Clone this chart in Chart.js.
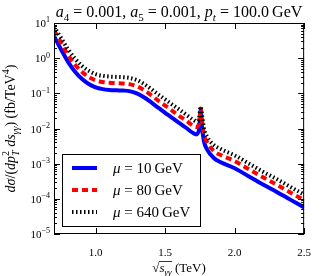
<!DOCTYPE html>
<html>
<head>
<meta charset="utf-8">
<script src="https://cdn.jsdelivr.net/npm/chart.js@4.4.1/dist/chart.umd.min.js"></script>
<style>
  html, body { margin: 0; padding: 0; background: #fff; }
  canvas { display: block; }
</style>
</head>
<body>
<canvas id="chart" width="324" height="276"></canvas>
<script>
// sqrt(s_gg) in TeV
const sqrtS = [0.70, 0.75, 0.80, 0.85, 0.90, 0.95, 1.00, 1.05, 1.10, 1.15, 1.20, 1.25, 1.30, 1.35, 1.40, 1.45, 1.50, 1.55, 1.60, 1.65, 1.70, 1.725, 1.745, 1.755, 1.765, 1.78, 1.80, 1.85, 1.90, 2.00, 2.10, 2.20, 2.30, 2.40, 2.50];

// d sigma / (dpT^2 ds) in fb/TeV^4
const mu10 = [4.2, 1.8, 0.8, 0.42, 0.26, 0.185, 0.148, 0.132, 0.125, 0.122, 0.12, 0.114, 0.098, 0.076, 0.055, 0.039, 0.028, 0.020, 0.0145, 0.0105, 0.0075, 0.0068, 0.010, 0.034, 0.011, 0.0042, 0.0026, 0.00145, 0.0011, 7.4e-4, 4.4e-4, 2.6e-4, 1.6e-4, 9.5e-5, 5.7e-5];
const mu80 = [6.3, 2.8, 1.25, 0.66, 0.41, 0.29, 0.235, 0.21, 0.2, 0.195, 0.19, 0.18, 0.157, 0.122, 0.088, 0.062, 0.045, 0.032, 0.023, 0.017, 0.012, 0.011, 0.015, 0.037, 0.017, 0.0068, 0.0042, 0.0023, 0.00176, 1.18e-3, 7.0e-4, 4.2e-4, 2.55e-4, 1.52e-4, 9.2e-5];
const mu640 = [7.8, 3.8, 1.8, 0.98, 0.61, 0.44, 0.35, 0.315, 0.3, 0.293, 0.287, 0.27, 0.235, 0.182, 0.132, 0.093, 0.067, 0.048, 0.035, 0.025, 0.018, 0.016, 0.021, 0.042, 0.024, 0.0098, 0.006, 0.0034, 0.0026, 1.72e-3, 1.02e-3, 6.0e-4, 3.7e-4, 2.2e-4, 1.32e-4];

const xTicks = [1.0, 1.5, 2.0, 2.5];
const yDecades = [-5, -4, -3, -2, -1, 0, 1];
const seriesLabels = ['10', '80', '640'];

const FAM = '"Liberation Serif", "DejaVu Serif", serif';

function pts(ys) {
    return sqrtS.map((x, i) => ({ x: x, y: ys[i] }));
}

// small rich text helper: italic, sub, sup, stacked sub under sup
function partFont(p, size) {
    const s = (p.sub || p.sup) ? Math.round(size * 0.7) : size;
    return (p.i ? 'italic ' : '') + s + 'px ' + FAM;
}
function drawRich(ctx, parts, x, y, size, align) {
    let cx = 0, prevStart = 0;
    const items = [];
    for (const p of parts) {
        ctx.font = partFont(p, size);
        const w = ctx.measureText(p.t).width;
        const start = p.back ? prevStart : cx;
        const dy = p.sub ? size * 0.25 : p.sup ? -size * 0.42 : 0;
        items.push({ p: p, x: start, dy: dy, font: ctx.font, w: w });
        prevStart = start;
        cx = Math.max(cx, start + w);
    }
    const x0 = align === 'center' ? x - cx / 2 : align === 'right' ? x - cx : x;
    ctx.textAlign = 'left';
    ctx.textBaseline = 'alphabetic';
    for (const it of items) {
        ctx.font = it.font;
        ctx.fillText(it.p.t, x0 + it.x, y + it.dy);
    }
    return { x0: x0, items: items, width: cx };
}

const decor = {
    id: 'decor',
    afterDatasetsDraw: function (chart) {
        const ctx = chart.ctx;
        const a = chart.chartArea;
        const xs = chart.scales.x, ys = chart.scales.y;
        ctx.save();
        ctx.fillStyle = '#000';
        ctx.strokeStyle = '#000';

        // frame
        ctx.lineWidth = 1;
        ctx.strokeRect(a.left + 0.5, a.top + 0.5, a.right - a.left - 1, a.bottom - a.top - 1);

        // inward ticks
        ctx.beginPath();
        for (const v of xTicks) {
            const px = Math.round(xs.getPixelForValue(v)) + 0.5;
            ctx.moveTo(px, a.bottom); ctx.lineTo(px, a.bottom - 6);
            ctx.moveTo(px, a.top); ctx.lineTo(px, a.top + 6);
        }
        for (const d of yDecades) {
            for (let m = 1; m <= 9; m++) {
                const v = m * Math.pow(10, d);
                if (v > 10.0001) continue;
                const py = Math.round(ys.getPixelForValue(v)) + 0.5;
                const len = m === 1 ? 6 : 3;
                ctx.moveTo(a.left, py); ctx.lineTo(a.left + len, py);
                ctx.moveTo(a.right, py); ctx.lineTo(a.right - len, py);
            }
        }
        ctx.stroke();

        // y tick labels 10^n
        for (const d of yDecades) {
            const py = ys.getPixelForValue(Math.pow(10, d));
            const sup = d < 0 ? '\u2212' + (-d) : String(d);
            drawRich(ctx, [{ t: '10' }, { t: sup, sup: true }], a.left - 4, py + 4, 11, 'right');
        }

        // legend box
        const lx = 62, ly = 154, lw = 138, lh = 72;
        ctx.fillStyle = '#fff';
        ctx.fillRect(lx, ly, lw, lh);
        ctx.strokeRect(lx + 0.5, ly + 0.5, lw, lh);
        ctx.fillStyle = '#000';
        chart.data.datasets.forEach(function (ds, i) {
            const ry = 168 + i * 22;
            ctx.beginPath();
            ctx.strokeStyle = ds.borderColor;
            ctx.lineWidth = ds.borderWidth;
            ctx.setLineDash(ds.borderDash || []);
            ctx.moveTo(72, ry); ctx.lineTo(97, ry);
            ctx.stroke();
            ctx.setLineDash([]);
            drawRich(ctx, [{ t: '\u03bc', i: true }, { t: ' = ' + seriesLabels[i] + '\u2009GeV' }], 113, ry + 5, 15, 'left');
        });

        // title
        ctx.fillStyle = '#000';
        const cx = (a.left + a.right) / 2;
        drawRich(ctx, [
            { t: 'a', i: true }, { t: '4', sub: true }, { t: ' = 0.001, ' },
            { t: 'a', i: true }, { t: '5', sub: true }, { t: ' = 0.001, ' },
            { t: 'p', i: true }, { t: 't', i: true, sub: true }, { t: ' = 100.0\u2009GeV' }
        ], cx, 17, 16, 'center');

        // x axis title
        const r = drawRich(ctx, [
            { t: '\u221a' }, { t: 's', i: true }, { t: '\u03b3\u03b3', i: true, sub: true }, { t: ' (TeV)' }
        ], cx, 272, 13, 'center');
        const ox0 = r.x0 + r.items[0].w - 0.5;
        const ox1 = r.x0 + r.items[2].x + r.items[2].w + 0.5;
        ctx.lineWidth = 0.8;
        ctx.strokeStyle = '#000';
        ctx.beginPath();
        ctx.moveTo(ox0, 261.5); ctx.lineTo(ox1, 261.5);
        ctx.stroke();

        // y axis title
        ctx.translate(15, (a.top + a.bottom) / 2);
        ctx.rotate(-Math.PI / 2);
        drawRich(ctx, [
            { t: 'd\u03c3', i: true }, { t: '/(' }, { t: 'dp', i: true }, { t: '2', sup: true },
            { t: 'T', i: true, sub: true, back: true }, { t: ' ' }, { t: 'ds', i: true },
            { t: '\u03b3\u03b3', i: true, sub: true }, { t: ') (fb/TeV' }, { t: '4', sup: true }, { t: ')' }
        ], 0, 0, 14, 'center');
        ctx.restore();
    }
};

new Chart(document.getElementById('chart').getContext('2d'), {
    type: 'line',
    data: {
        datasets: [
            { label: 'mu = 10 GeV', data: pts(mu10), borderColor: '#0000ff', borderWidth: 4, order: 3 },
            { label: 'mu = 80 GeV', data: pts(mu80), borderColor: '#ff0000', borderWidth: 4, borderDash: [6, 4], order: 2 },
            { label: 'mu = 640 GeV', data: pts(mu640), borderColor: '#000000', borderWidth: 4, borderDash: [1.5, 2.5], order: 1 }
        ]
    },
    plugins: [decor],
    options: {
        responsive: false,
        animation: false,
        layout: { padding: { left: 0, right: 16, top: 23, bottom: 0 } },
        elements: {
            point: { radius: 0 },
            line: { cubicInterpolationMode: 'monotone', fill: false }
        },
        plugins: {
            legend: { display: false },
            tooltip: { enabled: false }
        },
        scales: {
            x: {
                type: 'linear',
                min: 0.7,
                max: 2.5,
                afterBuildTicks: function (s) { s.ticks = xTicks.map(function (v) { return { value: v }; }); },
                afterFit: function (s) { s.height = 42; },
                grid: { display: false, drawTicks: false },
                border: { display: false },
                ticks: {
                    color: '#000',
                    padding: 13,
                    maxRotation: 0,
                    autoSkip: false,
                    font: { family: FAM, size: 11 },
                    callback: function (v) { return Number(v).toFixed(1); }
                }
            },
            y: {
                type: 'logarithmic',
                min: 1e-5,
                max: 10,
                afterFit: function (s) { s.width = 54; },
                grid: { display: false, drawTicks: false },
                border: { display: false },
                ticks: { display: false }
            }
        }
    }
});
</script>
</body>
</html>
